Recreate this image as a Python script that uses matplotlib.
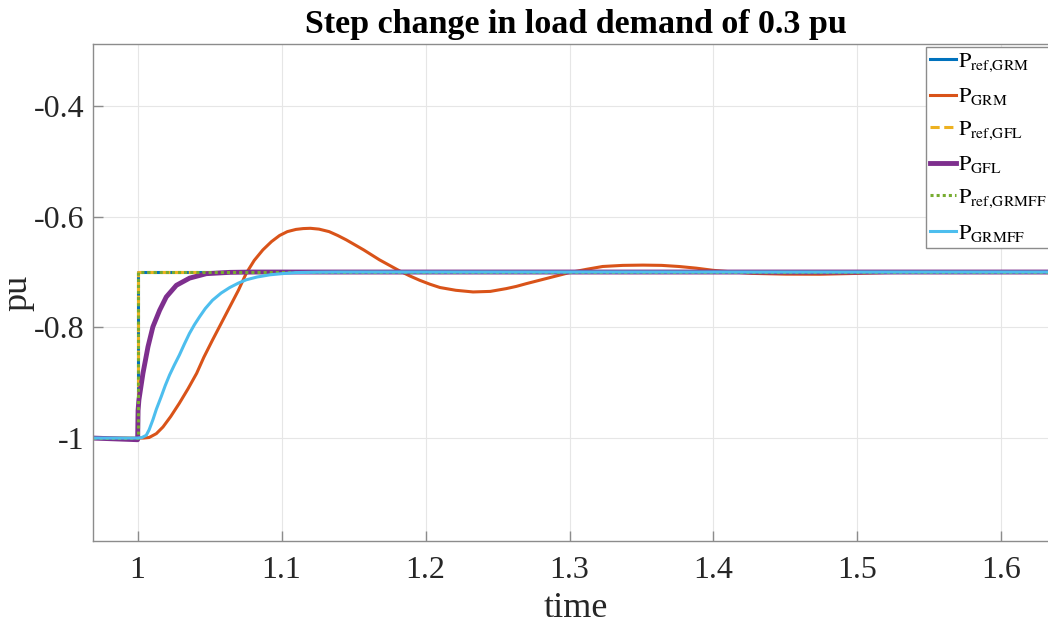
import matplotlib
matplotlib.use("Agg")
import matplotlib.pyplot as plt

plt.rcParams['font.family'] = ['Liberation Serif', 'DejaVu Serif']
plt.rcParams['mathtext.fontset'] = 'stix'
plt.rcParams['axes.unicode_minus'] = False

# Reference set-points (step of +0.3 pu at t = 1 s)
t_ref = [0.969, 1.0, 1.0, 1.64]
p_ref_grm = [-1.0, -1.0, -0.7, -0.7]
p_ref_gfl = [-1.0, -1.0, -0.7, -0.7]
p_ref_grmff = [-1.0, -1.0, -0.7, -0.7]

# Grid-forming (GRM) response
t_grm = [0.969, 1.000, 1.004, 1.008, 1.013, 1.0176, 1.023, 1.029, 1.035, 1.041, 1.046,
         1.052, 1.058, 1.064, 1.070, 1.0755, 1.081, 1.087, 1.093, 1.0986, 1.104, 1.110,
         1.115, 1.120, 1.126, 1.133, 1.139, 1.145, 1.151, 1.157, 1.168, 1.175,
         1.182, 1.189, 1.196, 1.203, 1.210, 1.221, 1.233, 1.245, 1.256, 1.263, 1.270,
         1.285, 1.300, 1.312, 1.323, 1.337, 1.351, 1.364, 1.376, 1.388, 1.400, 1.414,
         1.427, 1.450, 1.474, 1.500, 1.520, 1.560, 1.640]
p_grm = [-1.0, -1.0, -1.0, -0.999, -0.992, -0.980, -0.961, -0.937, -0.911, -0.883, -0.854,
         -0.823, -0.793, -0.763, -0.733, -0.702, -0.679, -0.660, -0.645, -0.634, -0.627, -0.623,
         -0.6215, -0.621, -0.6225, -0.627, -0.634, -0.642, -0.651, -0.660, -0.678, -0.688,
         -0.698, -0.707, -0.715, -0.722, -0.728, -0.733, -0.736, -0.735, -0.730, -0.726, -0.721,
         -0.711, -0.701, -0.695, -0.690, -0.688, -0.6875, -0.688, -0.690, -0.693, -0.697, -0.700,
         -0.7025, -0.7038, -0.704, -0.7025, -0.701, -0.700, -0.700]

# Grid-following (GFL) response
t_gfl = [0.969, 1.000, 1.0003, 1.0009, 1.0037, 1.0072, 1.0106, 1.0153, 1.0199,
         1.0269, 1.0361, 1.0477, 1.064, 1.080, 1.640]
p_gfl = [-1.0, -1.003, -0.950, -0.931, -0.883, -0.835, -0.799, -0.769, -0.745,
         -0.724, -0.711, -0.703, -0.7006, -0.700, -0.700]

# Grid-forming with feed-forward (GRMFF) response
t_grmff = [0.969, 1.000, 1.003, 1.006, 1.008, 1.0106, 1.013, 1.0164, 1.0192, 1.0222,
           1.0255, 1.029, 1.0325, 1.036, 1.0395, 1.043, 1.047, 1.052, 1.058, 1.064,
           1.070, 1.0755, 1.083, 1.092, 1.100, 1.110, 1.125, 1.140, 1.640]
p_grmff = [-1.0, -1.0, -0.999, -0.995, -0.985, -0.967, -0.948, -0.925, -0.905, -0.886,
           -0.868, -0.850, -0.830, -0.811, -0.795, -0.781, -0.766, -0.751, -0.738, -0.728,
           -0.720, -0.714, -0.709, -0.705, -0.703, -0.701, -0.7003, -0.700, -0.700]

x_ticks = [1, 1.1, 1.2, 1.3, 1.4, 1.5, 1.6]
x_ticklabels = ['1', '1.1', '1.2', '1.3', '1.4', '1.5', '1.6']
y_ticks = [-1.0, -0.8, -0.6, -0.4]
y_ticklabels = ['-1', '-0.8', '-0.6', '-0.4']

labels = [r'$\mathrm{P}_{\mathrm{ref{,}GRM}}$', r'$\mathrm{P}_{\mathrm{GRM}}$',
          r'$\mathrm{P}_{\mathrm{ref{,}GFL}}$', r'$\mathrm{P}_{\mathrm{GFL}}$',
          r'$\mathrm{P}_{\mathrm{ref{,}GRMFF}}$', r'$\mathrm{P}_{\mathrm{GRMFF}}$']

W, H = 1048, 624
fig = plt.figure(figsize=(W / 100, H / 100), dpi=100)
ax_left, ax_right, ax_top, ax_bot = 93, 1059, 44, 541
ax = fig.add_axes([ax_left / W, 1 - ax_bot / H, (ax_right - ax_left) / W, (ax_bot - ax_top) / H])

ax.plot(t_ref, p_ref_grm, color=(0, 0.447, 0.741), lw=2.2, label=labels[0])
ax.plot(t_grm, p_grm, color=(0.85, 0.325, 0.098), lw=2.2, label=labels[1])
ax.plot(t_ref, p_ref_gfl, color=(0.929, 0.694, 0.125), lw=2.2, ls=(0, (3, 1.5)), label=labels[2])
ax.plot(t_gfl, p_gfl, color=(0.494, 0.184, 0.556), lw=3.5, label=labels[3])
ax.plot(t_ref, p_ref_grmff, color=(0.466, 0.674, 0.188), lw=2.2, ls=(0, (1, 1)), label=labels[4])
ax.plot(t_grmff, p_grmff, color=(0.301, 0.745, 0.933), lw=2.2, label=labels[5])

ax.set_xlim(0.969, 1.64)
ax.set_ylim(-1.186, -0.288)
ax.set_xticks(x_ticks)
ax.set_xticklabels(x_ticklabels)
ax.set_yticks(y_ticks)
ax.set_yticklabels(y_ticklabels)
ax.grid(True, color='#e6e6e6', lw=0.8)
ax.set_axisbelow(True)

for s in ax.spines.values():
    s.set_color('#8c8c8c')
    s.set_linewidth(1.0)
ax.tick_params(direction='in', length=7, width=1.0, color='#8c8c8c',
               labelsize=23, labelcolor='#262626')
ax.tick_params(axis='x', pad=11)
ax.tick_params(axis='y', pad=6)

ax.set_xlabel('time', fontsize=26, color='#262626', labelpad=5)
ax.set_ylabel('pu', fontsize=26, color='#262626', labelpad=0)
ax.set_title('Step change in load demand of 0.3 pu', fontsize=24.5, fontweight='bold', pad=8)

leg = ax.legend(loc='upper left', bbox_to_anchor=(926 / W, 1 - 47 / H), bbox_transform=fig.transFigure,
                fontsize=16, frameon=True, fancybox=False, framealpha=1, edgecolor='#8c8c8c',
                handlelength=1.15, handletextpad=0.1, labelspacing=0.55, borderpad=0.2,
                borderaxespad=0)
leg.get_frame().set_linewidth(1.0)

fig.savefig('out.png', dpi=100)
